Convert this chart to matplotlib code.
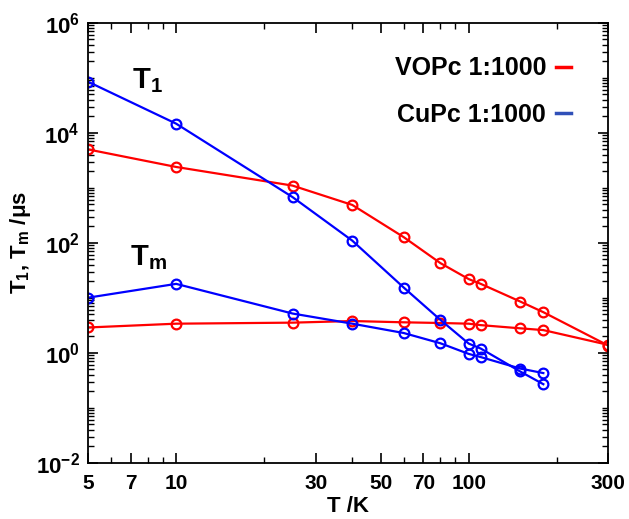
import math
import matplotlib
matplotlib.use('Agg')
import matplotlib.pyplot as plt
from matplotlib.ticker import FixedLocator, LogLocator, NullFormatter, FuncFormatter
from matplotlib.lines import Line2D

plt.rcParams['font.family'] = ['Liberation Sans', 'DejaVu Sans']
plt.rcParams['font.weight'] = 'bold'
plt.rcParams['mathtext.fontset'] = 'custom'
plt.rcParams['mathtext.rm'] = 'Liberation Sans:bold'
plt.rcParams['mathtext.bf'] = 'Liberation Sans:bold'
plt.rcParams['mathtext.it'] = 'DejaVu Sans:italic'
plt.rcParams['mathtext.default'] = 'bf'

# Temperatures (K)
temp = [5, 10, 25, 40, 60, 80, 100, 110, 150, 180, 300]
temp_cu = [5, 10, 25, 40, 60, 80, 100, 110, 150, 180]

# VOPc 1:1000 relaxation times (us)
vopc_t1 = [5000, 2400, 1100, 490, 127, 43, 22, 18, 8.6, 5.5, 1.36]
vopc_tm = [2.9, 3.4, 3.55, 3.8, 3.6, 3.5, 3.4, 3.2, 2.8, 2.6, 1.4]

# CuPc 1:1000 relaxation times (us)
cupc_t1 = [85000, 14700, 680, 110, 15.4, 4.0, 1.48, 1.2, 0.46, 0.27]
cupc_tm = [10.1, 18, 5.2, 3.4, 2.3, 1.5, 0.96, 0.84, 0.52, 0.43]

x_ticks = [5, 7, 10, 30, 50, 70, 100, 300]
y_ticks = [1e-2, 1e0, 1e2, 1e4, 1e6]

red = '#ff0000'
blue = '#0000ff'

fig = plt.figure(figsize=(6.29, 5.19), dpi=100)
ax = fig.add_axes([0.140, 0.108, 0.827, 0.848])

style = dict(marker='o', markersize=7, markerfacecolor='none',
             markeredgewidth=1.6, linewidth=1.6)
ax.plot(temp, vopc_t1, color=red, **style)
ax.plot(temp, vopc_tm, color=red, **style)
ax.plot(temp_cu, cupc_t1, color=blue, **style)
ax.plot(temp_cu, cupc_tm, color=blue, **style)

ax.set_xscale('log')
ax.set_yscale('log')
ax.set_xlim(5, 300)
ax.set_ylim(1e-2, 1e6)

ax.xaxis.set_major_locator(FixedLocator(x_ticks))
ax.xaxis.set_major_formatter(FuncFormatter(lambda v, p: f'{v:g}'))
ax.xaxis.set_minor_locator(LogLocator(base=10, subs=range(1, 10)))
ax.xaxis.set_minor_formatter(NullFormatter())

ax.yaxis.set_major_locator(FixedLocator(y_ticks))
ax.yaxis.set_major_formatter(FuncFormatter(
    lambda v, p: r'$\mathbf{10^{%d}}$' % round(math.log10(v))))
ax.yaxis.set_minor_locator(LogLocator(base=10, subs=range(1, 10), numticks=20))
ax.yaxis.set_minor_formatter(NullFormatter())

ax.tick_params(which='both', direction='in', top=True, right=True)
ax.tick_params(which='major', length=7, width=1.2, labelsize=15, pad=8)
ax.tick_params(axis='y', which='major', labelsize=16, pad=6)
ax.tick_params(which='minor', length=4, width=1.0)
for s in ax.spines.values():
    s.set_linewidth(1.3)

ax.set_xlabel('T /K', fontsize=16, fontweight='bold', labelpad=2)
ax.set_ylabel(r'T$_\mathbf{1}$, T$_\mathbf{m}$ /$\mu$s', fontsize=16,
              fontweight='bold', labelpad=2)

ax.text(7.07, 6.6e4, r'T$_\mathbf{1}$', fontsize=21, fontweight='bold')
ax.text(6.97, 40, r'T$_\mathbf{m}$', fontsize=21, fontweight='bold')

handles = [Line2D([], [], color=red, linewidth=2.5),
           Line2D([], [], color='#3050b8', linewidth=2.5)]
ax.legend(handles, ['VOPc 1:1000', 'CuPc 1:1000'], loc='upper right',
          bbox_to_anchor=(0.972, 0.975), frameon=False, markerfirst=False,
          handlelength=0.6, handletextpad=0.4, labelspacing=0.9,
          prop={'size': 18, 'weight': 'bold'})

fig.savefig('out.png', dpi=100)
